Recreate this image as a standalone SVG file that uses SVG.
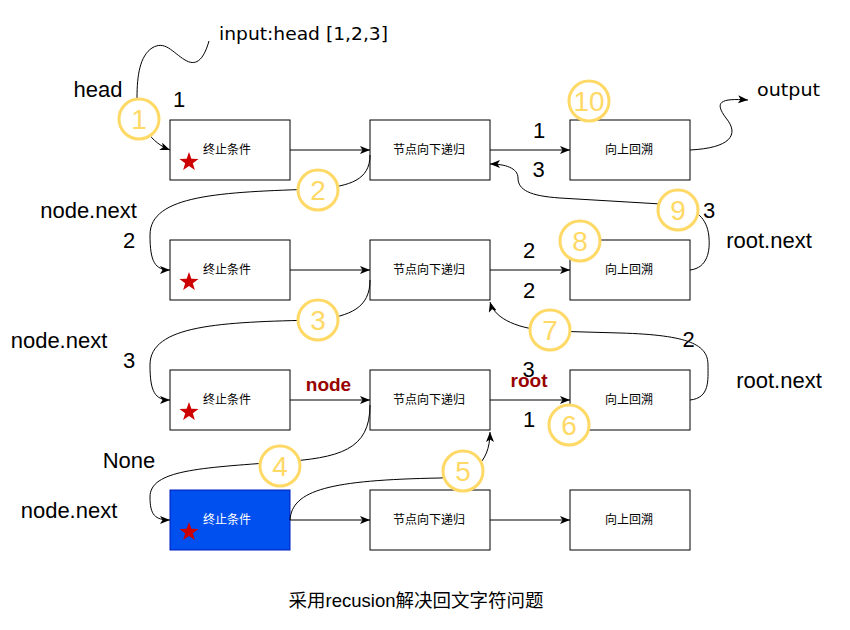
<svg xmlns="http://www.w3.org/2000/svg" width="850" height="630" viewBox="0 0 850 630">
<style>
.box{fill:#fff;stroke:#000;stroke-width:1}
.blue{fill:#0050EF;stroke:#001DBC;stroke-width:1}
.bt{font-family:"Liberation Sans","Noto Sans CJK SC",sans-serif;font-size:12px;text-anchor:middle;fill:#000}
.wt{fill:#fff}
.lbl{font-family:"Liberation Sans","Noto Sans CJK SC",sans-serif;font-size:22px;text-anchor:middle;fill:#000}
.red{font-family:"Liberation Sans",sans-serif;font-size:19px;font-weight:bold;text-anchor:middle;fill:#990000}
.hand{font-family:"DejaVu Sans",sans-serif;font-size:17px;fill:#000}
.cap{font-family:"Liberation Sans","Noto Sans CJK SC",sans-serif;font-size:18.5px;text-anchor:middle;fill:#000}
.edge{fill:none;stroke:#000;stroke-width:1;marker-end:url(#arr)}
.cc{fill:#fff;stroke:#FFD966;stroke-width:3}
.cn{font-family:"Liberation Sans",sans-serif;font-size:28px;text-anchor:middle;fill:#FFD966}
.star{fill:#CC0000}
</style>
<defs>
<marker id="arr" viewBox="0 0 10 8" refX="10" refY="4" markerWidth="10" markerHeight="8" orient="auto" markerUnits="userSpaceOnUse">
<path d="M0,0 L10,4 L0,8 L2.5,4 z" fill="#000"/>
</marker>
<polygon id="star" points="0,-10 2.35,-3.23 9.51,-3.09 3.8,1.23 5.88,8.09 0,4 -5.88,8.09 -3.8,1.23 -9.51,-3.09 -2.35,-3.23"/>
</defs>

<g id="n-r1-c1"><rect class="box" x="170" y="120" width="120" height="60"/><text class="bt" x="227" y="154">终止条件</text><use href="#star" class="star" x="189" y="162"/></g>
<g id="n-r1-c2"><rect class="box" x="370" y="120" width="120" height="60"/><text class="bt" x="429" y="154">节点向下递归</text></g>
<g id="n-r1-c3"><rect class="box" x="570" y="120" width="120" height="60"/><text class="bt" x="629" y="154">向上回溯</text></g>

<g id="n-r2-c1"><rect class="box" x="170" y="240" width="120" height="60"/><text class="bt" x="227" y="274">终止条件</text><use href="#star" class="star" x="189" y="282"/></g>
<g id="n-r2-c2"><rect class="box" x="370" y="240" width="120" height="60"/><text class="bt" x="429" y="274">节点向下递归</text></g>
<g id="n-r2-c3"><rect class="box" x="570" y="240" width="120" height="60"/><text class="bt" x="629" y="274">向上回溯</text></g>

<g id="n-r3-c1"><rect class="box" x="170" y="370" width="120" height="60"/><text class="bt" x="227" y="404">终止条件</text><use href="#star" class="star" x="189" y="412"/></g>
<g id="n-r3-c2"><rect class="box" x="370" y="370" width="120" height="60"/><text class="bt" x="429" y="404">节点向下递归</text></g>
<g id="n-r3-c3"><rect class="box" x="570" y="370" width="120" height="60"/><text class="bt" x="629" y="404">向上回溯</text></g>

<g id="n-r4-c1"><rect class="blue" x="170" y="490" width="120" height="60"/><text class="bt wt" x="227" y="524">终止条件</text><use href="#star" class="star" x="189" y="532"/></g>
<g id="n-r4-c2"><rect class="box" x="370" y="490" width="120" height="60"/><text class="bt" x="429" y="524">节点向下递归</text></g>
<g id="n-r4-c3"><rect class="box" x="570" y="490" width="120" height="60"/><text class="bt" x="629" y="524">向上回溯</text></g>

<g id="connectors">
<line class="edge" x1="290" y1="150" x2="370" y2="150"/>
<line class="edge" x1="490" y1="150" x2="570" y2="150"/>
<line class="edge" x1="290" y1="270" x2="370" y2="270"/>
<line class="edge" x1="490" y1="270" x2="570" y2="270"/>
<line class="edge" x1="290" y1="400" x2="370" y2="400"/>
<line class="edge" x1="490" y1="400" x2="570" y2="400"/>
<line class="edge" x1="290" y1="520" x2="370" y2="520"/>
<line class="edge" x1="490" y1="520" x2="570" y2="520"/>
<path class="edge" d="M209,41 C203,62 195,66 185,60 C172,52 165,40 152,48 C140,56 137,75 137,98 C137,125 152,143 170,150"/>
<path class="edge" d="M690,150 C730,148 740,135 726,118 C714,102 720,98 748,100"/>
<path class="edge" d="M370,155 C370,180 350,186 318,189 C220,192 150,195 150,235 C150,262 155,270 170,270"/>
<path class="edge" d="M370,280 C370,308 350,316 318,320 C220,322 150,325 150,365 C150,392 155,400 170,400"/>
<path class="edge" d="M370,405 C370,450 340,458 280,462 C200,468 150,470 150,497 C150,515 155,520 170,520"/>
<path class="edge" d="M290,520 C292,490 330,480 440,478 C470,477 490,465 490,432"/>
<path class="edge" d="M690,400 C710,398 708,380 708,365 C708,345 690,335 620,333 L550,331 C520,329 495,320 490,302"/>
<path class="edge" d="M690,270 C708,268 710,250 709,238 C708,222 700,210 678,205 L560,198 C530,196 518,190 518,178 C518,168 505,164 490,164"/>
</g>

<g id="c1"><circle class="cc" cx="139" cy="119" r="20"/><text class="cn" x="139" y="129">1</text></g>
<g id="c2"><circle class="cc" cx="318" cy="190" r="20"/><text class="cn" x="318" y="200">2</text></g>
<g id="c3"><circle class="cc" cx="318" cy="320" r="20"/><text class="cn" x="318" y="330">3</text></g>
<g id="c4"><circle class="cc" cx="280" cy="466" r="20"/><text class="cn" x="280" y="476">4</text></g>
<g id="c5"><circle class="cc" cx="463" cy="471" r="20"/><text class="cn" x="463" y="481">5</text></g>
<g id="c6"><circle class="cc" cx="569" cy="425" r="20"/><text class="cn" x="569" y="435">6</text></g>
<g id="c7"><circle class="cc" cx="550" cy="330" r="20"/><text class="cn" x="550" y="340">7</text></g>
<g id="c8"><circle class="cc" cx="580" cy="241" r="20"/><text class="cn" x="580" y="251">8</text></g>
<g id="c9"><circle class="cc" cx="678" cy="210" r="20"/><text class="cn" x="678" y="220">9</text></g>
<g id="c10"><circle class="cc" cx="589" cy="101" r="20"/><text class="cn" x="589" y="111">10</text></g>

<g id="labels">
<text class="hand" x="219" y="40" textLength="169" lengthAdjust="spacingAndGlyphs">input:head [1,2,3]</text>
<text class="hand" x="757" y="96" textLength="63" lengthAdjust="spacingAndGlyphs">output</text>
<text class="lbl" x="98" y="97">head</text>
<text class="lbl" x="179" y="107">1</text>
<text class="lbl" x="88.5" y="218">node.next</text>
<text class="lbl" x="129" y="248">2</text>
<text class="lbl" x="59" y="348">node.next</text>
<text class="lbl" x="129" y="368">3</text>
<text class="lbl" x="129" y="468">None</text>
<text class="lbl" x="69" y="518">node.next</text>
<text class="lbl" x="539" y="138">1</text>
<text class="lbl" x="538.5" y="177">3</text>
<text class="lbl" x="529" y="258">2</text>
<text class="lbl" x="529" y="298">2</text>
<text class="lbl" x="528.5" y="377">3</text>
<text class="red" x="529" y="387">root</text>
<text class="red" x="328.5" y="391">node</text>
<text class="lbl" x="529" y="427">1</text>
<text class="lbl" x="709" y="218">3</text>
<text class="lbl" x="688.5" y="347">2</text>
<text class="lbl" x="769" y="248">root.next</text>
<text class="lbl" x="779" y="388">root.next</text>
<text class="cap" x="416" y="607">采用recusion解决回文字符问题</text>
</g>
</svg>
